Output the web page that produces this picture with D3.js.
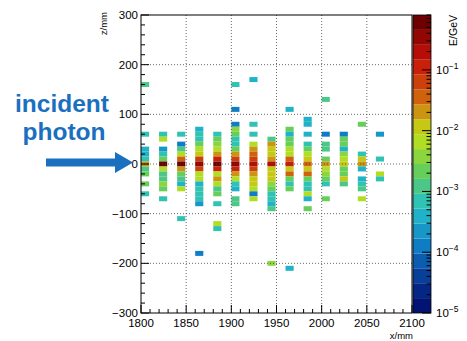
<!DOCTYPE html>
<html><head><meta charset="utf-8">
<script src="https://cdn.jsdelivr.net/npm/d3@7"></script>
<style>body{margin:0;background:#fff}svg{display:block}text{font-family:"Liberation Sans",Arial,sans-serif}</style>
</head><body><svg id="c" width="467" height="341"></svg>
<script>
// ---- data: x layer start positions (mm) and, per layer, [z (mm), E (GeV)] cells ----
const xLayers = [1800,1820,1840,1860,1880,1900,1920,1940,1960,1980,2000,2020,2040,2060];
const layer1800 = [[160,1.2e-3],[60,7e-4],[30,4e-4],[20,4e-4],[10,7e-4],[0,2.5e-2],[-10,1.2e-3],[-20,2.1e-3],[-40,2.1e-3],[-60,7e-4]];
const layer1820 = [[60,7e-4],[50,6.6e-3],[30,2.2e-4],[20,7e-4],[10,2.1e-3],[0,0.6],[-10,6.6e-3],[-20,1.2e-3],[-30,1.2e-3],[-40,3.7e-3],[-50,2.1e-3],[-70,7e-4]];
const layer1840 = [[60,7e-4],[40,1.2e-4],[30,1.2e-3],[20,6.6e-3],[10,3.5e-2],[0,0.6],[-10,2e-2],[-20,2.1e-3],[-30,1.2e-3],[-40,4e-4],[-50,6.6e-3],[-110,7e-4]];
const layer1860 = [[70,4e-4],[60,7e-4],[50,7e-4],[40,2.1e-3],[30,6.6e-3],[20,1.15e-2],[10,6.3e-2],[0,0.35],[-10,6e-2],[-20,6.6e-3],[-30,6.6e-3],[-40,4e-4],[-50,7e-4],[-60,7e-4],[-70,7e-4],[-80,2.2e-4],[-180,1.2e-4]];
const layer1880 = [[60,7e-4],[50,2.1e-3],[40,3.7e-3],[30,6.6e-3],[20,2e-2],[10,0.1],[0,0.6],[-10,0.1],[-20,6.6e-3],[-30,2e-2],[-40,6.6e-3],[-50,1.2e-3],[-60,2.1e-3],[-80,7e-4],[-120,5e-3],[-130,7e-4]];
const layer1900 = [[160,7e-4],[110,1.2e-4],[80,1.2e-4],[70,3.7e-3],[60,2.1e-3],[50,7e-4],[40,7e-4],[30,2.1e-3],[20,2e-2],[10,6.3e-2],[0,0.35],[-10,0.11],[-20,2e-2],[-30,6.6e-3],[-40,7e-4],[-50,4e-4],[-70,1.2e-3],[-80,1.2e-3]];
const layer1920 = [[170,4e-4],[80,7e-4],[60,7e-4],[40,6.6e-3],[30,2e-2],[20,3.5e-2],[10,6.3e-2],[0,0.25],[-10,6.3e-2],[-20,2e-2],[-30,1.15e-2],[-40,1.15e-2],[-50,6.6e-3],[-60,1.5e-4],[-70,6.6e-3]];
const layer1940 = [[50,1.2e-3],[40,2e-2],[30,1.15e-2],[20,1.15e-2],[10,2e-2],[0,0.2],[-10,1.15e-2],[-20,1.15e-2],[-30,1.15e-2],[-40,3.7e-3],[-50,2.1e-3],[-60,7e-4],[-70,7e-4],[-80,4e-4],[-90,1.2e-3],[-200,4.5e-3]];
const layer1960 = [[110,4e-4],[70,2.1e-3],[60,4e-4],[50,2.1e-3],[40,2.1e-3],[30,6.6e-3],[20,6.6e-3],[10,3.5e-2],[0,0.1],[-10,1.15e-2],[-20,3e-2],[-30,2.1e-3],[-40,7e-4],[-50,2.1e-3],[-210,5e-4]];
const layer1980 = [[90,4e-4],[80,4e-4],[60,4e-4],[40,7e-4],[30,2.1e-3],[20,6.6e-3],[10,1.15e-2],[0,4e-2],[-10,1.15e-2],[-20,3e-2],[-30,2.1e-3],[-40,7e-4],[-50,7e-4],[-60,6.6e-3],[-70,4e-4],[-90,2.1e-3]];
const layer2000 = [[130,1.5e-3],[60,1.5e-4],[40,1.2e-3],[30,1.2e-3],[10,2.1e-3],[0,2.5e-2],[-10,5e-3],[-20,3.7e-3],[-30,2.1e-3],[-40,7e-4],[-70,2.1e-3]];
const layer2020 = [[60,1.5e-4],[50,2.1e-3],[40,2.1e-3],[30,4e-4],[20,3.7e-3],[10,6.6e-3],[0,1.5e-2],[-10,2.1e-3],[-20,2.1e-3],[-30,1.15e-2],[-40,1.2e-3]];
const layer2040 = [[80,2.1e-3],[20,7e-4],[10,1.15e-2],[0,2e-2],[-10,4e-4],[-30,4e-4],[-40,7e-4],[-50,1.2e-3],[-70,6.6e-3]];
const layer2060 = [[60,2.2e-4],[10,7e-4],[-20,6.6e-3],[-30,7e-4]];
const layers = [layer1800,layer1820,layer1840,layer1860,layer1880,layer1900,layer1920,layer1940,layer1960,layer1980,layer2000,layer2020,layer2040,layer2060];
const xTicks = [1800,1850,1900,1950,2000,2050,2100];
const zTicks = [300,200,100,0,-100,-200,-300];
const eDecades = [1e-5,1e-4,1e-3,1e-2,1e-1];
const eRange = [1e-5,0.8];
const nLevels = 20;

// ---- drawing ----
const svg = d3.select("#c");
const L=141,R=412,T=15,B=313;
const x = d3.scaleLinear().domain([1800,2100]).range([L,R]);
const y = d3.scaleLinear().domain([-300,300]).range([B,T]);
const binW = 10, binH = 10;

// ROOT kRainBow palette
const stops=[0,.125,.25,.375,.5,.625,.75,.875,1];
const rr=[0,5,15,35,102,196,208,199,110], gg=[0,48,124,192,206,226,97,16,0], bb=[99,142,198,201,90,22,13,8,2];
function pal(t){t=Math.max(0,Math.min(1,t));let i=0;while(i<stops.length-2&&t>stops[i+1])i++;
  const f=(t-stops[i])/(stops[i+1]-stops[i]);
  const c=(a)=>Math.round(a[i]+(a[i+1]-a[i])*f);return `rgb(${c(rr)},${c(gg)},${c(bb)})`;}
const lvl = d3.scaleLog().domain(eRange).range([0,nLevels]);
function levelOf(e){return Math.max(0,Math.min(nLevels-1,Math.floor(lvl(e))));}
const levelColor = i => pal((i+0.99)/nLevels);

const cells=[];
layers.forEach((arr,k)=>arr.forEach(([z,e])=>cells.push({x0:xLayers[k],z,e})));
svg.append("g").selectAll("rect").data(cells).join("rect")
  .attr("x",d=>x(d.x0)).attr("width",d=>x(d.x0+binW-1)-x(d.x0))
  .attr("y",d=>y(d.z+binH/2)).attr("height",d=>y(d.z-binH/2)-y(d.z+binH/2))
  .attr("fill",d=>levelColor(levelOf(d.e)));

// grid
const g=svg.append("g").attr("stroke","#444").attr("stroke-width",0.8).attr("stroke-dasharray","1,2");
xTicks.slice(1,-1).forEach(v=>g.append("line").attr("x1",x(v)).attr("x2",x(v)).attr("y1",T).attr("y2",B));
zTicks.slice(1,-1).forEach(v=>g.append("line").attr("y1",y(v)).attr("y2",y(v)).attr("x1",L).attr("x2",R));

// frame
svg.append("rect").attr("x",L).attr("y",T).attr("width",R-L).attr("height",B-T).attr("fill","none").attr("stroke","#000").attr("stroke-width",1);

// axes ticks
const ax=svg.append("g").attr("stroke","#000").attr("stroke-width",1);
d3.range(1800,2101,10).forEach(v=>{const maj=v%50===0;ax.append("line").attr("x1",x(v)).attr("x2",x(v)).attr("y1",B).attr("y2",B-(maj?8:4));});
d3.range(-300,301,20).forEach(v=>{const maj=v%100===0;ax.append("line").attr("y1",y(v)).attr("y2",y(v)).attr("x1",L).attr("x2",L+(maj?8:4));});

const fs=11.5;
svg.append("g").selectAll("text").data(xTicks).join("text").attr("x",d=>x(d)).attr("y",327).attr("text-anchor","middle").attr("font-size",fs).text(d=>d);
svg.append("g").selectAll("text").data(zTicks).join("text").attr("x",L-3).attr("y",d=>y(d)+4).attr("text-anchor","end").attr("font-size",fs).text(d=>d<0?"\u2212"+Math.abs(d):d);
svg.append("text").attr("x",413).attr("y",339).attr("text-anchor","end").attr("font-size",9.5).text("x/mm");
svg.append("text").attr("transform","translate(107,12) rotate(-90)").attr("text-anchor","end").attr("font-size",9.5).text("z/mm");

// colour bar
const CL=413,CR=431;
const cy=d3.scaleLog().domain(eRange).range([B,T]);
const cb=svg.append("g");
d3.range(nLevels).forEach(i=>{const e0=lvl.invert(i),e1=lvl.invert(i+1);
  cb.append("rect").attr("x",CL).attr("width",CR-CL).attr("y",cy(e1)).attr("height",cy(e0)-cy(e1)).attr("fill",levelColor(i));});
cb.append("rect").attr("x",CL).attr("y",T).attr("width",CR-CL).attr("height",B-T).attr("fill","none").attr("stroke","#000").attr("stroke-width",0.8);
const ct=cb.append("g").attr("stroke","#000").attr("stroke-width",1);
eDecades.forEach(d=>{for(let m=1;m<10;m++){const v=d*m;if(v>eRange[1]*1.0001)continue;
  ct.append("line").attr("x1",CR).attr("x2",CR-(m===1?9:4.5)).attr("y1",cy(v)).attr("y2",cy(v));}});
eDecades.forEach(d=>{const ex=Math.round(Math.log10(d));
  const t=cb.append("text").attr("x",436).attr("y",cy(d)+4).attr("font-size",fs);
  t.append("tspan").text("10");
  t.append("tspan").attr("dy",-5).attr("font-size",8.5).text("\u2212"+Math.abs(ex));});
svg.append("text").attr("transform","translate(457,15) rotate(-90)").attr("text-anchor","end").attr("font-size",10.5).text("E/GeV");

// annotation
const blue="#1a70bf";
svg.append("text").attr("x",62).attr("y",112).attr("text-anchor","middle").attr("font-size",24.5).attr("font-weight","bold").attr("fill",blue).text("incident");
svg.append("text").attr("x",64).attr("y",140).attr("text-anchor","middle").attr("font-size",24.5).attr("font-weight","bold").attr("fill",blue).text("photon");
svg.append("path").attr("d","M46,158.5 L115,158.5 L115,152 L133,162.5 L115,173 L115,166.5 L46,166.5 Z").attr("fill",blue);
</script></body></html>
